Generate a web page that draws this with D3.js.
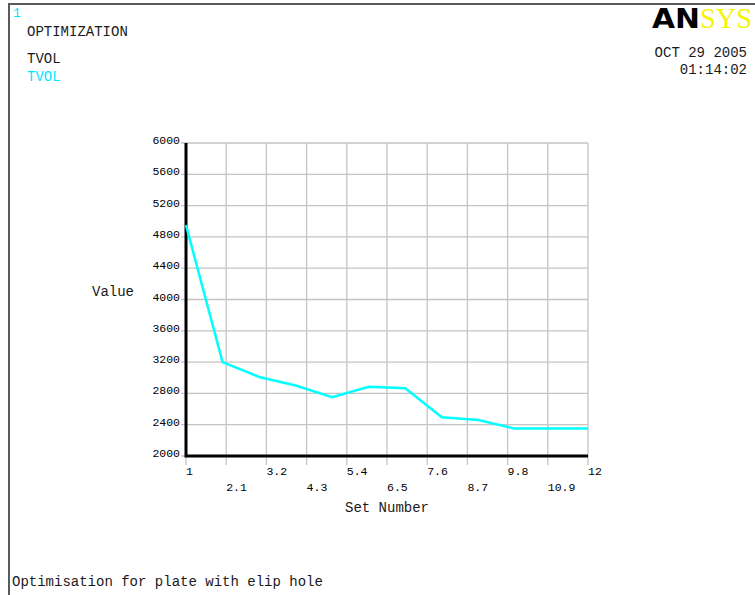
<!DOCTYPE html>
<html>
<head>
<meta charset="utf-8">
<script src="https://cdn.jsdelivr.net/npm/d3@7"></script>
<style>
  html, body { margin: 0; padding: 0; background: #fff; }
  svg { display: block; }
  .mono { font-family: "Courier New", "Liberation Mono", monospace; fill: #1a1a1a; }
</style>
</head>
<body>
<svg id="chart" width="755" height="595"></svg>
<script>
// Optimization history: total volume per design set
const setNumbers = [1, 2, 3, 4, 5, 6, 7, 8, 9, 10, 11, 12];
const tvolValues = [4950, 3200, 3010, 2900, 2750, 2885, 2865, 2495, 2460, 2350, 2350, 2350];

// Axis ticks
const xTicks = [1, 2.1, 3.2, 4.3, 5.4, 6.5, 7.6, 8.7, 9.8, 10.9, 12];
const xTickLabels = ["1", "2.1", "3.2", "4.3", "5.4", "6.5", "7.6", "8.7", "9.8", "10.9", "12"];
const yTicks = [2000, 2400, 2800, 3200, 3600, 4000, 4400, 4800, 5200, 5600, 6000];

const svg = d3.select("#chart");

const x = d3.scaleLinear().domain([1, 12]).range([186, 588]);
const y = d3.scaleLinear().domain([2000, 6000]).range([456, 143]);

// Window frame
svg.append("path")
  .attr("d", "M9,595 L9,4 L755,4")
  .attr("fill", "none")
  .attr("stroke", "#5a5a5a")
  .attr("stroke-width", 2);

// Header text
svg.append("text").attr("class", "mono").attr("x", 13).attr("y", 17)
  .style("font-size", "13px").style("fill", "#00e5ff").text("1");
svg.append("text").attr("class", "mono").attr("x", 27).attr("y", 36)
  .style("font-size", "14px").text("OPTIMIZATION");
svg.append("text").attr("class", "mono").attr("x", 27).attr("y", 63)
  .style("font-size", "14px").text("TVOL");
svg.append("text").attr("class", "mono").attr("x", 27).attr("y", 81)
  .style("font-size", "14px").style("fill", "#00e5ff").text("TVOL");

// Logo
const logo = svg.append("text").attr("x", 652).attr("y", 28);
logo.append("tspan")
  .style("font-family", "'DejaVu Sans', sans-serif")
  .style("font-weight", "900").style("font-size", "27px").style("fill", "#000")
  .attr("textLength", 48).attr("lengthAdjust", "spacingAndGlyphs")
  .text("AN");
logo.append("tspan")
  .style("font-family", "'Liberation Serif', serif")
  .style("font-size", "29px").style("fill", "#f5f500")
  .attr("textLength", 52).attr("lengthAdjust", "spacingAndGlyphs")
  .text("SYS");

// Date and time
svg.append("text").attr("class", "mono").attr("x", 747).attr("y", 57)
  .attr("text-anchor", "end").style("font-size", "14px").text("OCT 29 2005");
svg.append("text").attr("class", "mono").attr("x", 747).attr("y", 74)
  .attr("text-anchor", "end").style("font-size", "14px").text("01:14:02");

// Grid
const grid = svg.append("g").attr("stroke", "#c4c4c4").attr("stroke-width", 1.3);
grid.selectAll("line.h").data(yTicks).join("line")
  .attr("x1", 181).attr("x2", x(12))
  .attr("y1", d => y(d)).attr("y2", d => y(d));
grid.selectAll("line.v").data(xTicks).join("line")
  .attr("x1", d => x(d)).attr("x2", d => x(d))
  .attr("y1", y(6000)).attr("y2", 465);

// Y tick labels
svg.append("g").selectAll("text").data(yTicks).join("text")
  .attr("class", "mono")
  .attr("x", 180).attr("y", d => y(d) + 1)
  .attr("text-anchor", "end")
  .style("font-size", "11.5px")
  .style("fill", "#000")
  .text(d => d);

// X tick labels in two staggered rows
svg.append("g").selectAll("text").data(xTicks).join("text")
  .attr("class", "mono")
  .attr("x", d => x(d))
  .attr("y", (d, i) => i % 2 === 0 ? 475 : 491)
  .style("font-size", "11.5px")
  .style("fill", "#000")
  .text((d, i) => xTickLabels[i]);

// Main axes
svg.append("path")
  .attr("d", `M${x(1)},${y(6000)} L${x(1)},${y(2000)} L${x(12)},${y(2000)}`)
  .attr("fill", "none")
  .attr("stroke", "#000")
  .attr("stroke-width", 3);

// Axis titles
svg.append("text").attr("class", "mono").attr("x", 92).attr("y", 296)
  .style("font-size", "14px").text("Value");
svg.append("text").attr("class", "mono").attr("x", (x(1) + x(12)) / 2).attr("y", 512)
  .attr("text-anchor", "middle").style("font-size", "14px").text("Set Number");

// TVOL curve
const line = d3.line().x((d, i) => x(setNumbers[i])).y(d => y(d));
svg.append("path")
  .datum(tvolValues)
  .attr("d", line)
  .attr("fill", "none")
  .attr("stroke", "#00ffff")
  .attr("stroke-width", 2.5);

// Footer
svg.append("text").attr("class", "mono").attr("x", 12).attr("y", 586)
  .style("font-size", "14px").text("Optimisation for plate with elip hole");
</script>
</body>
</html>
